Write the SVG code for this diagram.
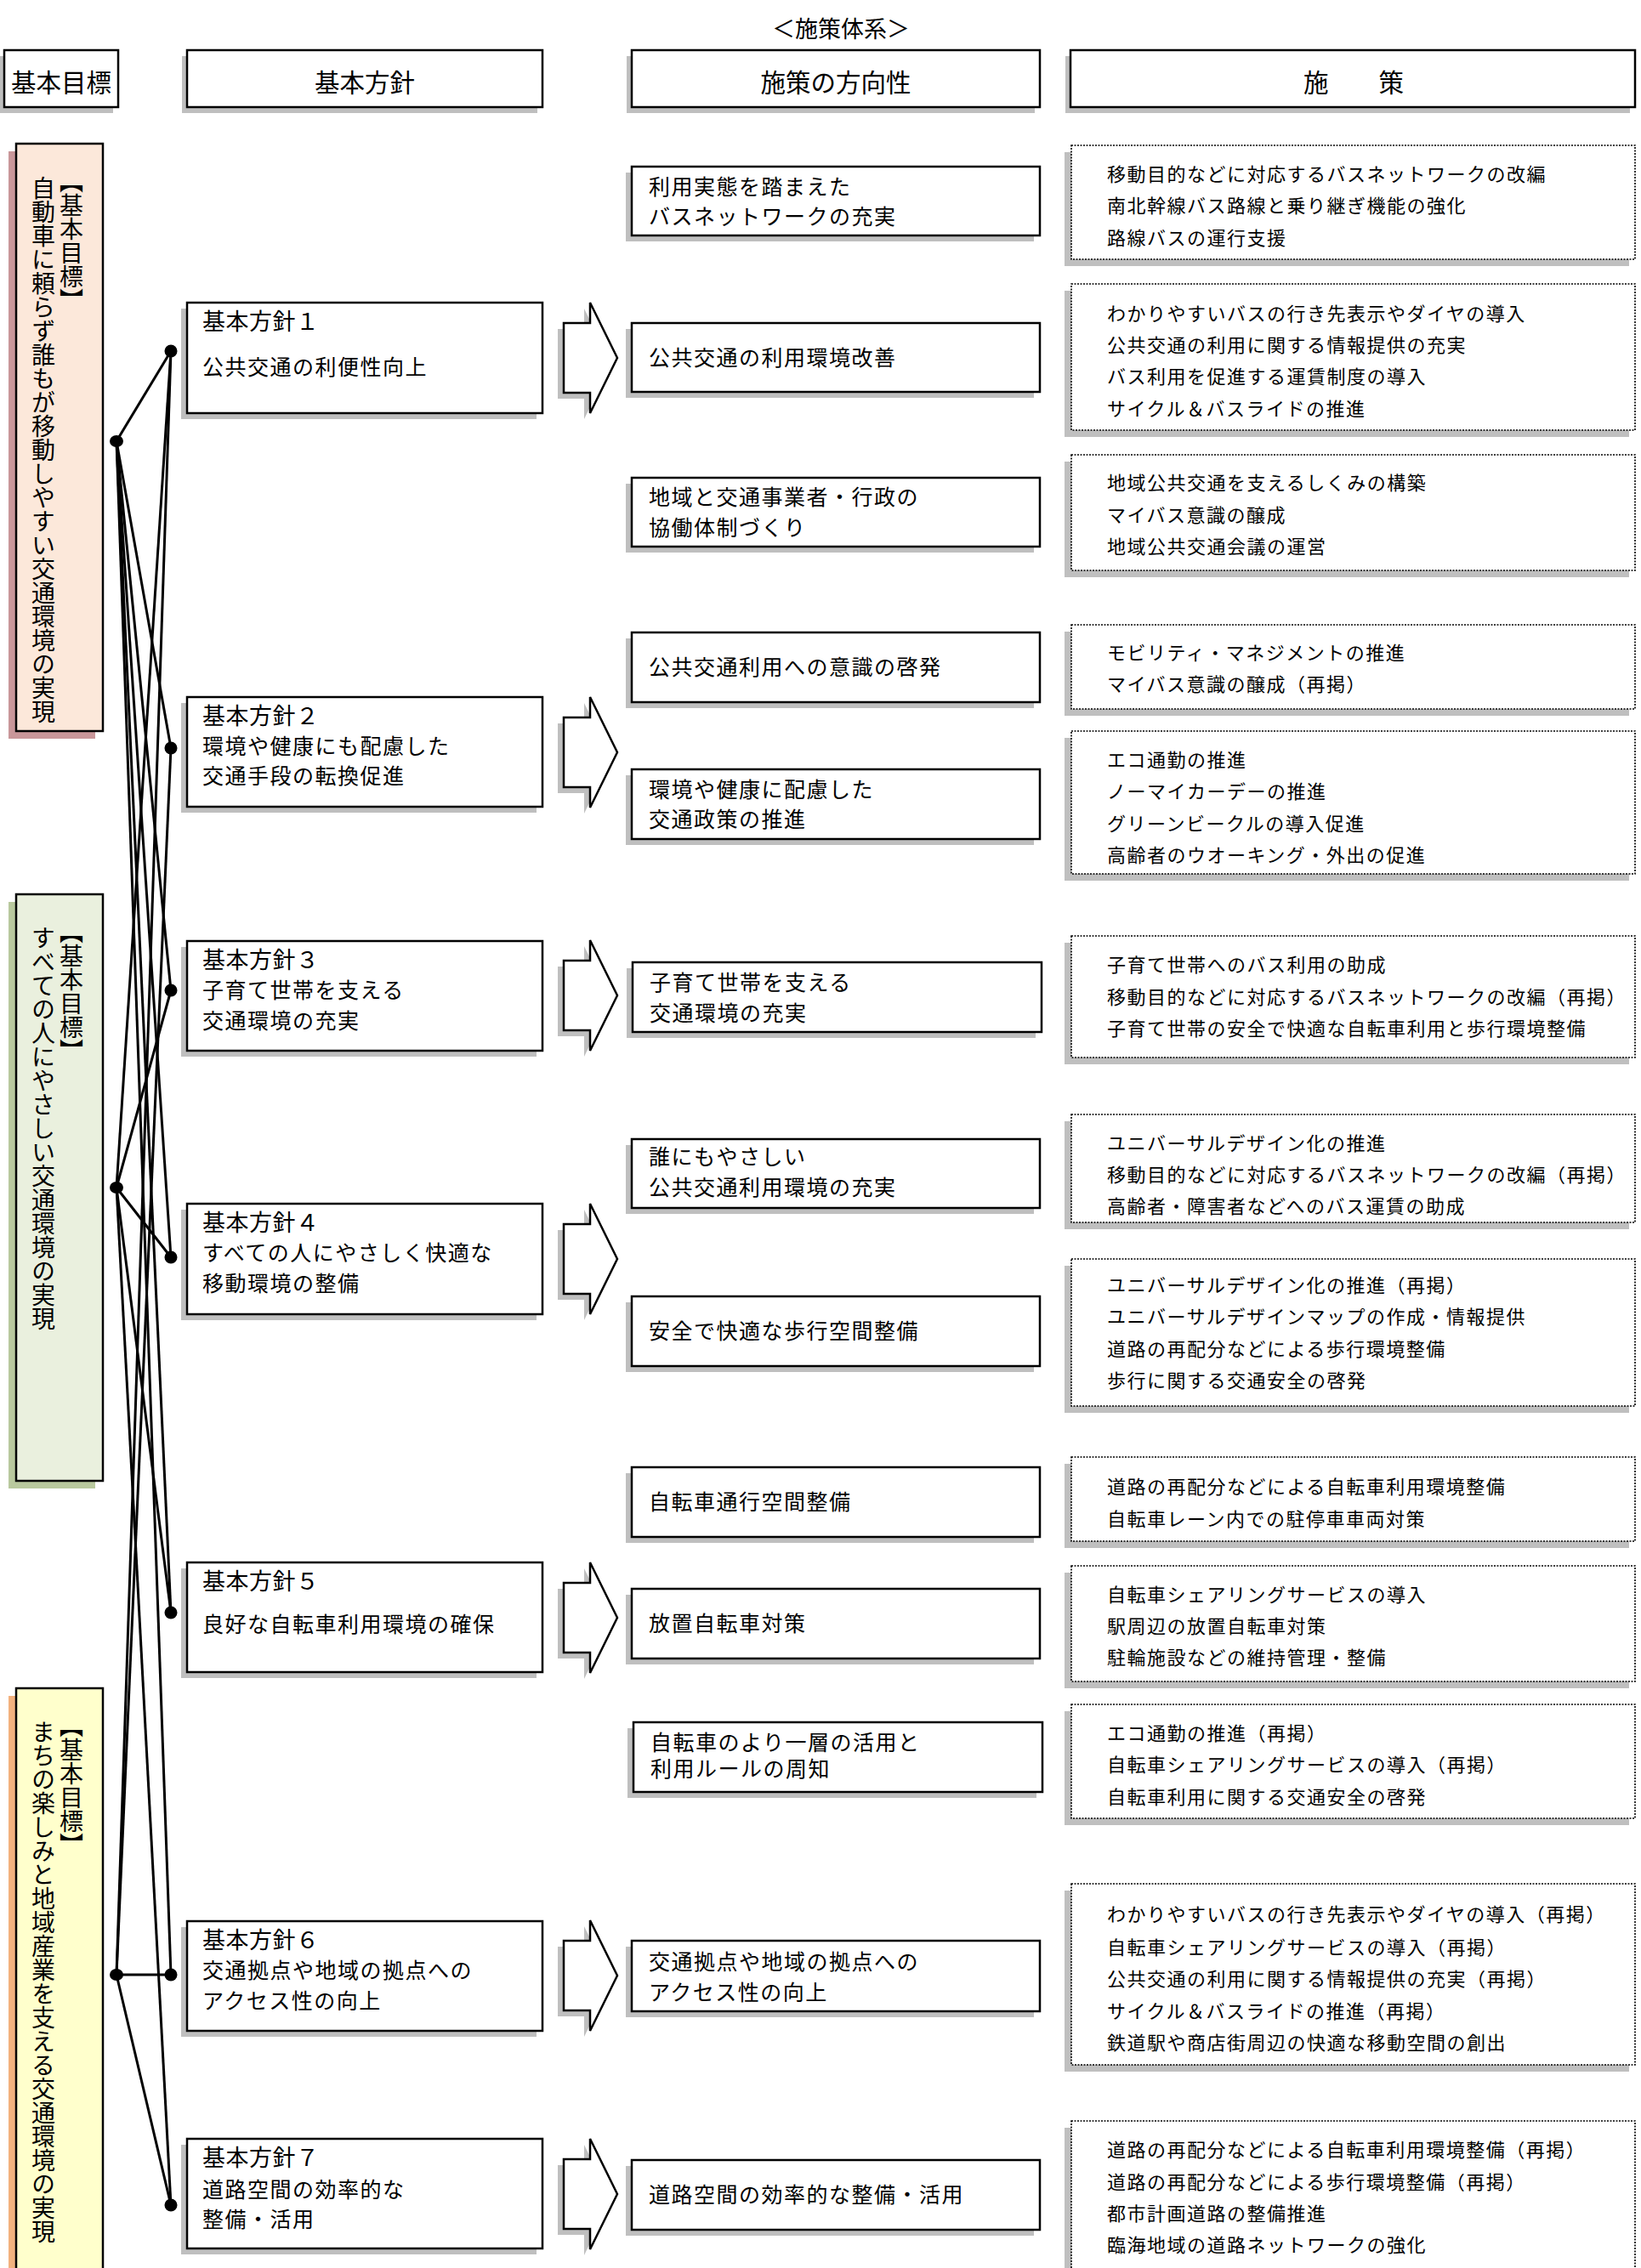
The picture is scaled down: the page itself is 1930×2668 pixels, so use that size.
<svg xmlns="http://www.w3.org/2000/svg" width="1930" height="2668" viewBox="0 0 1930 2668">
<style>
text{font-family:"Noto Sans CJK JP","Noto Sans",sans-serif;fill:#000}
.hd{font-size:29.5px;text-anchor:middle}
.ttl{font-size:27px;text-anchor:middle}
.box{fill:#fff;stroke:#000;stroke-width:2.5}
.sh{fill:#bfbfbf}
.pt{font-size:27px;letter-spacing:0.5px}
.bt{font-size:25px;letter-spacing:1.5px}
.st{font-size:22px;letter-spacing:1.5px}
.dot{fill:#000;stroke:none}
.ln{stroke:#000;stroke-width:3;fill:none}
.sbox{fill:#fff;stroke:#000;stroke-width:1.6;stroke-dasharray:2 1.5}
.gv{font-size:28px;writing-mode:vertical-rl}
.gb{stroke:#000;stroke-width:2.5}
</style>
<defs>
<path id="arr" d="M0,-41 H31 V-65 L63,0 L31,65 V41 H0 Z"/>
</defs>

<text class="ttl" x="989" y="44">＜施策体系＞</text>

<g id="headers">
<g id="h-goal"><rect class="sh" x="-1" y="66" width="134" height="67"/><rect class="box" x="5" y="59" width="134" height="67"/><text class="hd" x="72" y="108">基本目標</text></g>
<g id="h-policy"><rect class="sh" x="214" y="66" width="418" height="67"/><rect class="box" x="220" y="59" width="418" height="67"/><text class="hd" x="429" y="108">基本方針</text></g>
<g id="h-direction"><rect class="sh" x="737" y="66" width="480" height="67"/><rect class="box" x="743" y="59" width="480" height="67"/><text class="hd" x="983" y="108">施策の方向性</text></g>
<g id="h-measure"><rect class="sh" x="1253" y="66" width="664" height="67"/><rect class="box" x="1259" y="59" width="664" height="67"/><text class="hd" x="1592" y="108">施　　策</text></g>
</g>

<g id="goal1"><rect x="10" y="178" width="102" height="691" fill="#c9979a"/><rect class="gb" x="19" y="169" width="102" height="691" fill="#fce8da"/>
<text class="gv" x="84" y="199">【基本目標】</text><text class="gv" x="51" y="207">自動車に頼らず誰もが移動しやすい交通環境の実現</text></g>
<g id="goal2"><rect x="10" y="1061" width="102" height="690" fill="#b9c99e"/><rect class="gb" x="19" y="1052" width="102" height="690" fill="#eaf0de"/>
<text class="gv" x="84" y="1082">【基本目標】</text><text class="gv" x="51" y="1089">すべての人にやさしい交通環境の実現</text></g>
<g id="goal3"><rect x="10" y="1995" width="102" height="700" fill="#f2b27f"/><rect class="gb" x="19" y="1986" width="102" height="700" fill="#ffffcc"/>
<text class="gv" x="84" y="2016">【基本目標】</text><text class="gv" x="51" y="2023">まちの楽しみと地域産業を支える交通環境の実現</text></g>

<g id="connectors">
<line class="ln" x1="137" y1="519" x2="201" y2="413"/>
<line class="ln" x1="137" y1="519" x2="201" y2="880"/>
<line class="ln" x1="137" y1="519" x2="201" y2="1165"/>
<line class="ln" x1="137" y1="519" x2="201" y2="1479"/>
<line class="ln" x1="137" y1="519" x2="201" y2="1897"/>
<line class="ln" x1="137" y1="519" x2="201" y2="2323"/>
<line class="ln" x1="137" y1="1397" x2="201" y2="413"/>
<line class="ln" x1="137" y1="1397" x2="201" y2="1165"/>
<line class="ln" x1="137" y1="1397" x2="201" y2="1479"/>
<line class="ln" x1="137" y1="1397" x2="201" y2="1897"/>
<line class="ln" x1="137" y1="1397" x2="201" y2="2594"/>
<line class="ln" x1="137" y1="2323" x2="201" y2="413"/>
<line class="ln" x1="137" y1="2323" x2="201" y2="880"/>
<line class="ln" x1="137" y1="2323" x2="201" y2="2323"/>
<line class="ln" x1="137" y1="2323" x2="201" y2="2594"/>
<ellipse class="dot" cx="137" cy="519" rx="8" ry="7"/>
<ellipse class="dot" cx="137" cy="1397" rx="8" ry="7"/>
<ellipse class="dot" cx="137" cy="2323" rx="8" ry="7"/>
<ellipse class="dot" cx="201" cy="413" rx="7.5" ry="7.5"/>
<ellipse class="dot" cx="201" cy="880" rx="7.5" ry="7.5"/>
<ellipse class="dot" cx="201" cy="1165" rx="7.5" ry="7.5"/>
<ellipse class="dot" cx="201" cy="1479" rx="7.5" ry="7.5"/>
<ellipse class="dot" cx="201" cy="1897" rx="7.5" ry="7.5"/>
<ellipse class="dot" cx="201" cy="2323" rx="7.5" ry="7.5"/>
<ellipse class="dot" cx="201" cy="2594" rx="7.5" ry="7.5"/>
</g>

<g id="arrows">
<use href="#arr" x="656" y="428" class="sh"/><use href="#arr" x="663" y="421" class="box"/>
<use href="#arr" x="656" y="892" class="sh"/><use href="#arr" x="663" y="885" class="box"/>
<use href="#arr" x="656" y="1178" class="sh"/><use href="#arr" x="663" y="1171" class="box"/>
<use href="#arr" x="656" y="1488" class="sh"/><use href="#arr" x="663" y="1481" class="box"/>
<use href="#arr" x="656" y="1910" class="sh"/><use href="#arr" x="663" y="1903" class="box"/>
<use href="#arr" x="656" y="2331" class="sh"/><use href="#arr" x="663" y="2324" class="box"/>
<use href="#arr" x="656" y="2588" class="sh"/><use href="#arr" x="663" y="2581" class="box"/>
</g>

<g id="policy1"><rect class="sh" x="213" y="363" width="418" height="130"/><rect class="box" x="220" y="356" width="418" height="130"/>
<text class="pt" x="238" y="388">基本方針１</text><text class="bt" x="238" y="441">公共交通の利便性向上</text></g>
<g id="policy2"><rect class="sh" x="213" y="827" width="418" height="129"/><rect class="box" x="220" y="820" width="418" height="129"/>
<text class="pt" x="238" y="852">基本方針２</text><text class="bt" x="238" y="887">環境や健康にも配慮した</text><text class="bt" x="238" y="922">交通手段の転換促進</text></g>
<g id="policy3"><rect class="sh" x="213" y="1114" width="418" height="129"/><rect class="box" x="220" y="1107" width="418" height="129"/>
<text class="pt" x="238" y="1139">基本方針３</text><text class="bt" x="238" y="1174">子育て世帯を支える</text><text class="bt" x="238" y="1210">交通環境の充実</text></g>
<g id="policy4"><rect class="sh" x="213" y="1423" width="418" height="130"/><rect class="box" x="220" y="1416" width="418" height="130"/>
<text class="pt" x="238" y="1448">基本方針４</text><text class="bt" x="238" y="1483">すべての人にやさしく快適な</text><text class="bt" x="238" y="1519">移動環境の整備</text></g>
<g id="policy5"><rect class="sh" x="213" y="1845" width="418" height="129"/><rect class="box" x="220" y="1838" width="418" height="129"/>
<text class="pt" x="238" y="1870">基本方針５</text><text class="bt" x="238" y="1920">良好な自転車利用環境の確保</text></g>
<g id="policy6"><rect class="sh" x="213" y="2267" width="418" height="129"/><rect class="box" x="220" y="2260" width="418" height="129"/>
<text class="pt" x="238" y="2292">基本方針６</text><text class="bt" x="238" y="2327">交通拠点や地域の拠点への</text><text class="bt" x="238" y="2363">アクセス性の向上</text></g>
<g id="policy7"><rect class="sh" x="213" y="2523" width="418" height="129"/><rect class="box" x="220" y="2516" width="418" height="129"/>
<text class="pt" x="238" y="2548">基本方針７</text><text class="bt" x="238" y="2585">道路空間の効率的な</text><text class="bt" x="238" y="2620">整備・活用</text></g>

<g id="dir1"><rect class="sh" x="736" y="203" width="480" height="81"/><rect class="box" x="743" y="196" width="480" height="81"/><text class="bt" x="763" y="229">利用実態を踏まえた</text><text class="bt" x="763" y="264">バスネットワークの充実</text></g>
<g id="dir2"><rect class="sh" x="736" y="387" width="480" height="81"/><rect class="box" x="743" y="380" width="480" height="81"/><text class="bt" x="763" y="430">公共交通の利用環境改善</text></g>
<g id="dir3"><rect class="sh" x="736" y="569" width="480" height="81"/><rect class="box" x="743" y="562" width="480" height="81"/><text class="bt" x="763" y="594">地域と交通事業者・行政の</text><text class="bt" x="763" y="630">協働体制づくり</text></g>
<g id="dir4"><rect class="sh" x="736" y="751" width="480" height="82"/><rect class="box" x="743" y="744" width="480" height="82"/><text class="bt" x="763" y="794">公共交通利用への意識の啓発</text></g>
<g id="dir5"><rect class="sh" x="736" y="912" width="480" height="82"/><rect class="box" x="743" y="905" width="480" height="82"/><text class="bt" x="763" y="938">環境や健康に配慮した</text><text class="bt" x="763" y="973">交通政策の推進</text></g>
<g id="dir6"><rect class="sh" x="737" y="1139" width="481" height="82"/><rect class="box" x="744" y="1132" width="481" height="82"/><text class="bt" x="764" y="1165">子育て世帯を支える</text><text class="bt" x="764" y="1201">交通環境の充実</text></g>
<g id="dir7"><rect class="sh" x="736" y="1347" width="480" height="81"/><rect class="box" x="743" y="1340" width="480" height="81"/><text class="bt" x="763" y="1370">誰にもやさしい</text><text class="bt" x="763" y="1406">公共交通利用環境の充実</text></g>
<g id="dir8"><rect class="sh" x="736" y="1532" width="480" height="82"/><rect class="box" x="743" y="1525" width="480" height="82"/><text class="bt" x="763" y="1575">安全で快適な歩行空間整備</text></g>
<g id="dir9"><rect class="sh" x="736" y="1733" width="480" height="82"/><rect class="box" x="743" y="1726" width="480" height="82"/><text class="bt" x="763" y="1776">自転車通行空間整備</text></g>
<g id="dir10"><rect class="sh" x="736" y="1876" width="480" height="82"/><rect class="box" x="743" y="1869" width="480" height="82"/><text class="bt" x="763" y="1919">放置自転車対策</text></g>
<g id="dir11"><rect class="sh" x="738" y="2033" width="481" height="82"/><rect class="box" x="745" y="2026" width="481" height="82"/><text class="bt" x="765" y="2059">自転車のより一層の活用と</text><text class="bt" x="765" y="2090">利用ルールの周知</text></g>
<g id="dir12"><rect class="sh" x="736" y="2290" width="480" height="83"/><rect class="box" x="743" y="2283" width="480" height="83"/><text class="bt" x="763" y="2317">交通拠点や地域の拠点への</text><text class="bt" x="763" y="2353">アクセス性の向上</text></g>
<g id="dir13"><rect class="sh" x="736" y="2548" width="480" height="82"/><rect class="box" x="743" y="2541" width="480" height="82"/><text class="bt" x="763" y="2591">道路空間の効率的な整備・活用</text></g>

<g id="m1"><rect class="sh" x="1252" y="179" width="664" height="134"/><rect class="sbox" x="1260" y="171" width="663" height="134"/>
<text class="st" x="1302" y="213">移動目的などに対応するバスネットワークの改編</text><text class="st" x="1302" y="250">南北幹線バス路線と乗り継ぎ機能の強化</text><text class="st" x="1302" y="288">路線バスの運行支援</text></g>
<g id="m2"><rect class="sh" x="1252" y="342" width="664" height="172"/><rect class="sbox" x="1260" y="334" width="663" height="172"/>
<text class="st" x="1302" y="377">わかりやすいバスの行き先表示やダイヤの導入</text><text class="st" x="1302" y="414">公共交通の利用に関する情報提供の充実</text><text class="st" x="1302" y="451">バス利用を促進する運賃制度の導入</text><text class="st" x="1302" y="489">サイクル＆バスライドの推進</text></g>
<g id="m3"><rect class="sh" x="1252" y="543" width="664" height="136"/><rect class="sbox" x="1260" y="535" width="663" height="136"/>
<text class="st" x="1302" y="576">地域公共交通を支えるしくみの構築</text><text class="st" x="1302" y="614">マイバス意識の醸成</text><text class="st" x="1302" y="651">地域公共交通会議の運営</text></g>
<g id="m4"><rect class="sh" x="1252" y="743" width="664" height="99"/><rect class="sbox" x="1260" y="735" width="663" height="99"/>
<text class="st" x="1302" y="776">モビリティ・マネジメントの推進</text><text class="st" x="1302" y="813">マイバス意識の醸成（再掲）</text></g>
<g id="m5"><rect class="sh" x="1252" y="868" width="664" height="168"/><rect class="sbox" x="1260" y="860" width="663" height="168"/>
<text class="st" x="1302" y="902">エコ通勤の推進</text><text class="st" x="1302" y="939">ノーマイカーデーの推進</text><text class="st" x="1302" y="977">グリーンビークルの導入促進</text><text class="st" x="1302" y="1014">高齢者のウオーキング・外出の促進</text></g>
<g id="m6"><rect class="sh" x="1252" y="1109" width="664" height="143"/><rect class="sbox" x="1260" y="1101" width="663" height="143"/>
<text class="st" x="1302" y="1143">子育て世帯へのバス利用の助成</text><text class="st" x="1302" y="1181">移動目的などに対応するバスネットワークの改編（再掲）</text><text class="st" x="1302" y="1218">子育て世帯の安全で快適な自転車利用と歩行環境整備</text></g>
<g id="m7"><rect class="sh" x="1252" y="1319" width="664" height="127"/><rect class="sbox" x="1260" y="1311" width="663" height="127"/>
<text class="st" x="1302" y="1353">ユニバーサルデザイン化の推進</text><text class="st" x="1302" y="1390">移動目的などに対応するバスネットワークの改編（再掲）</text><text class="st" x="1302" y="1427">高齢者・障害者などへのバス運賃の助成</text></g>
<g id="m8"><rect class="sh" x="1252" y="1489" width="664" height="173"/><rect class="sbox" x="1260" y="1481" width="663" height="173"/>
<text class="st" x="1302" y="1520">ユニバーサルデザイン化の推進（再掲）</text><text class="st" x="1302" y="1557">ユニバーサルデザインマップの作成・情報提供</text><text class="st" x="1302" y="1595">道路の再配分などによる歩行環境整備</text><text class="st" x="1302" y="1632">歩行に関する交通安全の啓発</text></g>
<g id="m9"><rect class="sh" x="1252" y="1722" width="664" height="99"/><rect class="sbox" x="1260" y="1714" width="663" height="99"/>
<text class="st" x="1302" y="1757">道路の再配分などによる自転車利用環境整備</text><text class="st" x="1302" y="1795">自転車レーン内での駐停車車両対策</text></g>
<g id="m10"><rect class="sh" x="1252" y="1850" width="664" height="136"/><rect class="sbox" x="1260" y="1842" width="663" height="136"/>
<text class="st" x="1302" y="1884">自転車シェアリングサービスの導入</text><text class="st" x="1302" y="1921">駅周辺の放置自転車対策</text><text class="st" x="1302" y="1958">駐輪施設などの維持管理・整備</text></g>
<g id="m11"><rect class="sh" x="1252" y="2013" width="664" height="134"/><rect class="sbox" x="1260" y="2005" width="663" height="134"/>
<text class="st" x="1302" y="2047">エコ通勤の推進（再掲）</text><text class="st" x="1302" y="2084">自転車シェアリングサービスの導入（再掲）</text><text class="st" x="1302" y="2122">自転車利用に関する交通安全の啓発</text></g>
<g id="m12"><rect class="sh" x="1252" y="2224" width="664" height="213"/><rect class="sbox" x="1260" y="2216" width="663" height="213"/>
<text class="st" x="1302" y="2260">わかりやすいバスの行き先表示やダイヤの導入（再掲）</text><text class="st" x="1302" y="2299">自転車シェアリングサービスの導入（再掲）</text><text class="st" x="1302" y="2336">公共交通の利用に関する情報提供の充実（再掲）</text><text class="st" x="1302" y="2374">サイクル＆バスライドの推進（再掲）</text><text class="st" x="1302" y="2411">鉄道駅や商店街周辺の快適な移動空間の創出</text></g>
<g id="m13"><rect class="sh" x="1252" y="2503" width="664" height="190"/><rect class="sbox" x="1260" y="2495" width="663" height="190"/>
<text class="st" x="1302" y="2537">道路の再配分などによる自転車利用環境整備（再掲）</text><text class="st" x="1302" y="2575">道路の再配分などによる歩行環境整備（再掲）</text><text class="st" x="1302" y="2612">都市計画道路の整備推進</text><text class="st" x="1302" y="2649">臨海地域の道路ネットワークの強化</text></g>
</svg>
